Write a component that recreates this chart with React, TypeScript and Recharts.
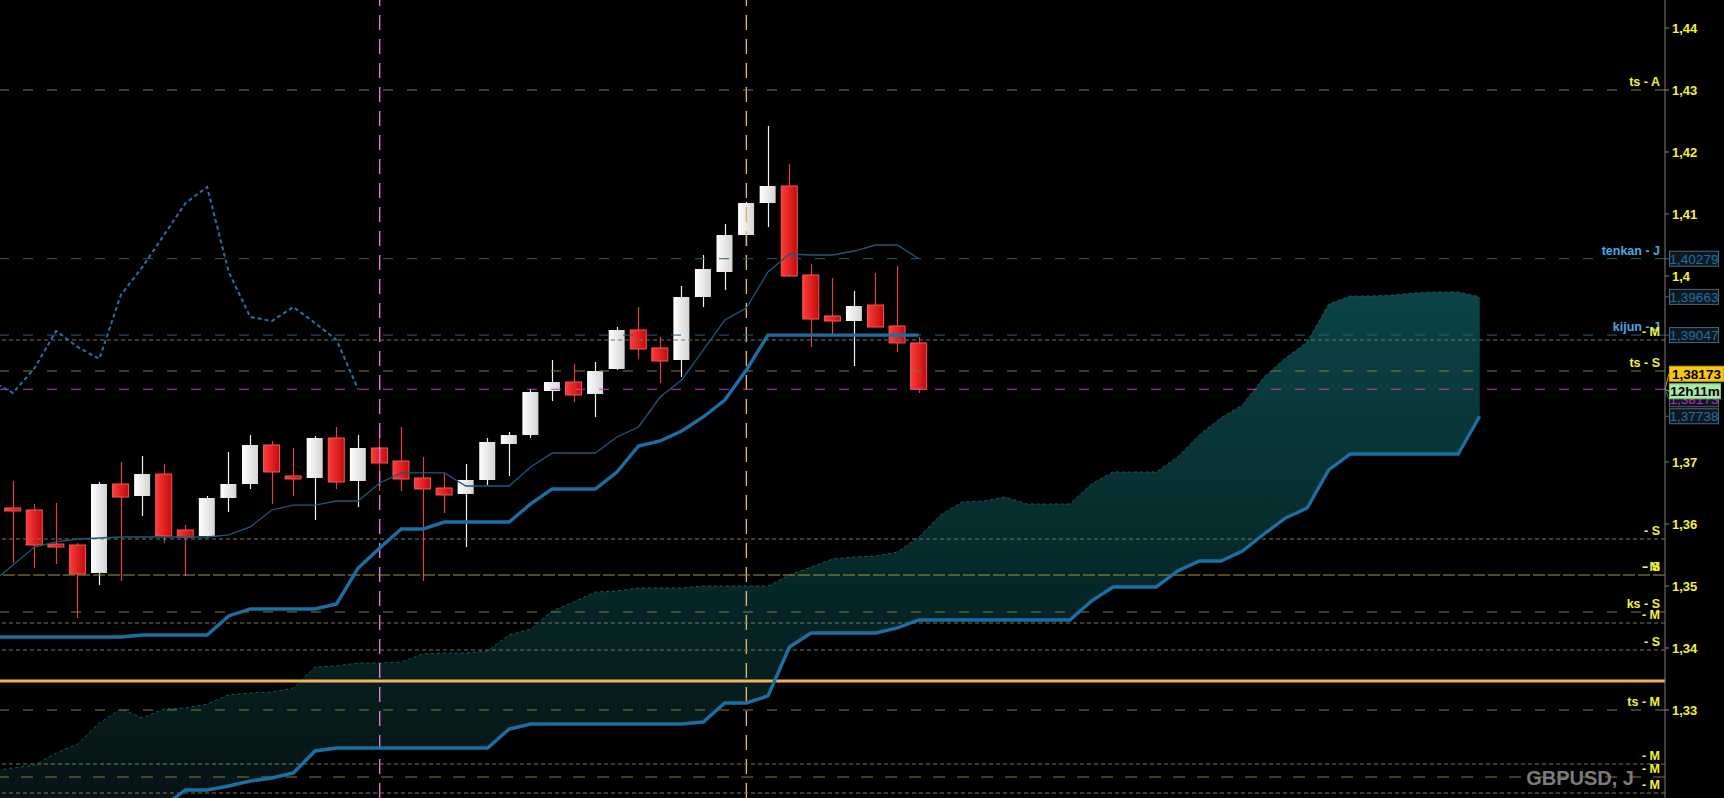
import React from 'react'
import { Area, Bar, ComposedChart, Line, ReferenceLine, XAxis, YAxis } from 'recharts'

// GBPUSD daily, Ichimoku. Slot 0 = first visible candle, cloud runs 26 slots ahead.
const FONT = "'Liberation Sans', Arial, sans-serif"

const candleOpen = [
  1.36258, 1.36226, 1.35677, 1.35661, 1.3521, 1.36645, 1.36452, 1.36806, 1.35903, 1.35806,
  1.36419, 1.36645, 1.37274, 1.36774, 1.36742, 1.37387, 1.36694, 1.37226, 1.37016, 1.36742,
  1.36581, 1.36484, 1.3671, 1.3729, 1.37435, 1.38145, 1.3829, 1.38097, 1.385, 1.39129,
  1.38839, 1.38645, 1.39661, 1.40065, 1.40661, 1.41177, 1.41452, 1.40016, 1.39355, 1.39274,
  1.39532, 1.39194, 1.3892,
]
const candleHigh = [
  1.36694, 1.36323, 1.36339, 1.35694, 1.36677, 1.37, 1.37097, 1.36968, 1.35984, 1.36452,
  1.37161, 1.37435, 1.37339, 1.37226, 1.37419, 1.37565, 1.37435, 1.37516, 1.37565, 1.37081,
  1.36823, 1.36968, 1.37387, 1.37484, 1.38177, 1.38645, 1.38581, 1.38613, 1.39177, 1.395,
  1.39016, 1.39839, 1.40339, 1.40839, 1.41194, 1.42419, 1.41806, 1.40194, 1.39968, 1.39758,
  1.40048, 1.40161, 1.39016,
]
const candleLow = [
  1.35371, 1.3529, 1.35355, 1.34484, 1.35016, 1.35081, 1.36129, 1.35694, 1.35161, 1.3579,
  1.36194, 1.36565, 1.36323, 1.36452, 1.36065, 1.36565, 1.36274, 1.36532, 1.36532, 1.35081,
  1.36177, 1.35629, 1.36629, 1.36774, 1.37387, 1.37984, 1.37968, 1.37726, 1.38484, 1.38661,
  1.38274, 1.38371, 1.395, 1.39774, 1.40484, 1.4079, 1.39984, 1.38855, 1.39048, 1.38548,
  1.39177, 1.38774, 1.38113,
]
const candleClose = [
  1.3621, 1.35661, 1.35629, 1.35194, 1.36645, 1.36435, 1.36806, 1.35806, 1.3579, 1.36419,
  1.36645, 1.37274, 1.36839, 1.36726, 1.37387, 1.36677, 1.37226, 1.36984, 1.36726, 1.36565,
  1.36468, 1.3671, 1.37323, 1.37435, 1.38129, 1.3829, 1.38081, 1.38468, 1.39129, 1.38823,
  1.38629, 1.39661, 1.40113, 1.40661, 1.41177, 1.41452, 1.4, 1.39306, 1.39274, 1.39516,
  1.39177, 1.3892, 1.38173,
]

// lines start one slot left of the first candle
const tenkanLine = [
  1.35048, 1.35339, 1.35629, 1.3571, 1.35758, 1.35774, 1.3579, 1.3579, 1.3579, 1.3579,
  1.3579, 1.35823, 1.35952, 1.36226, 1.36306, 1.36306, 1.36371, 1.36371, 1.36661, 1.36823,
  1.36823, 1.36823, 1.36613, 1.36613, 1.36613, 1.36919, 1.37145, 1.37145, 1.37145, 1.37403,
  1.37565, 1.38048, 1.38323, 1.38806, 1.3929, 1.39484, 1.40065, 1.40355, 1.40339, 1.40339,
  1.40403, 1.405, 1.405, 1.40279,
]
const kijunLine = [
  1.34177, 1.34177, 1.34177, 1.34177, 1.34177, 1.34177, 1.34177, 1.3421, 1.3421, 1.3421,
  1.3421, 1.34516, 1.34629, 1.34629, 1.34629, 1.34629, 1.3471, 1.3529, 1.35613, 1.35919,
  1.35919, 1.36032, 1.36032, 1.36032, 1.36032, 1.36323, 1.36565, 1.36565, 1.36565, 1.36839,
  1.37258, 1.37339, 1.375, 1.37726, 1.38, 1.38484, 1.39047, 1.39047, 1.39047, 1.39047,
  1.39047, 1.39047, 1.39047, 1.39047,
]
const chikouLine = [
  1.38306, 1.38113, 1.38516, 1.39113, 1.38855, 1.38661, 1.39694, 1.40145, 1.40661, 1.41177,
  1.41435, 1.40065, 1.39339, 1.39274, 1.395, 1.39242, 1.38968, 1.38173,
]
const senkouA = [
  1.32016, 1.32065, 1.32113, 1.32306, 1.32452, 1.3279, 1.33016, 1.32871, 1.33016, 1.33032,
  1.33097, 1.33242, 1.33274, 1.3329, 1.33355, 1.33694, 1.3371, 1.33758, 1.33758, 1.33774,
  1.33903, 1.33919, 1.33919, 1.33952, 1.3421, 1.34306, 1.34597, 1.34742, 1.34903, 1.34919,
  1.34968, 1.34968, 1.34968, 1.35, 1.35, 1.35, 1.35, 1.35177, 1.35306, 1.35435,
  1.35468, 1.35484, 1.35548, 1.3579, 1.36145, 1.36355, 1.36371, 1.36435, 1.36323, 1.36323,
  1.36323, 1.36645, 1.36839, 1.36839, 1.36839, 1.37081, 1.37435, 1.3771, 1.37919, 1.38371,
  1.38677, 1.38935, 1.39548, 1.39677, 1.39677, 1.39694, 1.39726, 1.39742, 1.39742, 1.39663,
]
const senkouB = [
  1.30984, 1.31065, 1.31065, 1.31097, 1.31145, 1.31226, 1.3129, 1.31355, 1.31452, 1.3171,
  1.3171, 1.31774, 1.31855, 1.31903, 1.31984, 1.32339, 1.32387, 1.32387, 1.32387, 1.32387,
  1.32387, 1.32387, 1.32387, 1.32387, 1.32694, 1.32774, 1.32774, 1.32774, 1.32774, 1.32774,
  1.32774, 1.32774, 1.32774, 1.32806, 1.33113, 1.33113, 1.33226, 1.34016, 1.34242, 1.34242,
  1.34242, 1.34242, 1.34323, 1.34452, 1.34452, 1.34452, 1.34452, 1.34452, 1.34452, 1.34452,
  1.34452, 1.34758, 1.34984, 1.34984, 1.34984, 1.35242, 1.35403, 1.35403, 1.35565, 1.35839,
  1.36097, 1.36258, 1.36871, 1.37129, 1.37129, 1.37129, 1.37129, 1.37129, 1.37129, 1.37738,
]

// 1,39 and 1,38 sit under the price boxes, so they are not printed
const yTicks = [1.33, 1.34, 1.35, 1.36, 1.37, 1.4, 1.41, 1.42, 1.43, 1.44]

// horizontal levels drawn across the plot, with their right-hand captions
const levelPrices = [
  1.43, 1.40279, 1.39047, 1.38968, 1.38468, 1.38173, 1.35758, 1.35177, 1.34581, 1.34403,
  1.33968, 1.33468, 1.33, 1.32129, 1.31919, 1.31661,
]
const levelCaptions = [
  ['ts - A'], ['tenkan - J'], ['kijun - J'], ['- M'], ['ts - S'], [], ['- S'], ['- M', '- S'],
  ['ks - S'], ['- M'], ['- S'], [], ['ts - M'], ['- M'], ['- M'], ['- M'],
]
const levelKinds = [
  'long', 'blue', 'blue', 'short', 'long', 'magenta', 'short', 'mid', 'long', 'short',
  'short', 'orange', 'long', 'short', 'wide', 'short',
]

// boxes on the price axis
const tagPrices = [1.40279, 1.39663, 1.39047, 1.37738]
const lastPrice = 1.38173
const countdown = '12h11m'

// vertical dashed markers (slot index)
const markerSlots = [17, 34]
const markerColors = ['#e274e2', '#e0b36e']

const FIRST_SLOT = -1
const rows: any[] = []
for (let i = FIRST_SLOT; i <= 77; i++) {
  const k = i - FIRST_SLOT
  const row: any = { i }
  if (i >= 0 && i < candleOpen.length) {
    row.o = candleOpen[i]
    row.h = candleHigh[i]
    row.l = candleLow[i]
    row.c = candleClose[i]
    row.range = [candleLow[i], candleHigh[i]]
  }
  if (k < tenkanLine.length) row.tenkan = tenkanLine[k]
  if (k < kijunLine.length) row.kijun = kijunLine[k]
  if (k < chikouLine.length) row.chikou = chikouLine[k]
  if (k < senkouA.length) {
    row.ssa = senkouA[k]
    row.ssb = senkouB[k]
    row.cloud = [senkouB[k], senkouA[k]]
  }
  rows.push(row)
}

const fmt = (v: number) => v.toFixed(5).replace('.', ',')
const tickFmt = (v: number) => String(Math.round(v * 100) / 100).replace('.', ',')

const levelStyle: Record<string, { stroke: string; dash?: string; width: number }> = {
  long: { stroke: '#7e7e34', dash: '10 14', width: 1 },
  short: { stroke: '#78785a', dash: '4 3', width: 1 },
  mid: { stroke: '#9a9a3c', dash: '12 3', width: 1 },
  wide: { stroke: '#7e7e34', dash: '12 12', width: 1 },
  blue: { stroke: '#2a5d7e', dash: '10 14', width: 1 },
  magenta: { stroke: '#c83ec8', dash: '10 14', width: 1.2 },
  orange: { stroke: '#f2b457', width: 3 },
}

function Candle(props: any) {
  const { x, y, width, height, payload } = props
  if (!payload || payload.o == null || x == null || y == null) return null
  const { o, h, l, c } = payload
  const top = Math.min(y, y + height)
  const px = Math.abs(height)
  const span = h - l || 1e-9
  const at = (v: number) => top + ((h - v) / span) * px
  const cx = Math.round(x + width / 2) + 0.5
  const up = c >= o
  const bTop = at(Math.max(o, c))
  const bh = Math.max(at(Math.min(o, c)) - bTop, 2)
  return (
    <g>
      <line x1={cx} x2={cx} y1={top} y2={top + px} stroke={up ? '#f2f2f2' : '#e5403f'} strokeWidth={1.2} />
      <rect
        x={x + 0.5}
        y={bTop}
        width={width - 1}
        height={bh}
        fill={up ? 'url(#bullBody)' : 'url(#bearBody)'}
        stroke={up ? 'none' : '#f35858'}
        strokeWidth={1}
      />
    </g>
  )
}

function LevelText({ viewBox, texts, color }: any) {
  if (!viewBox || !texts || !texts.length) return null
  const xr = viewBox.x + viewBox.width - 5
  return (
    <g>
      {texts.map((t: string) => (
        <text key={t} x={xr} y={viewBox.y - 4} textAnchor="end" fill={color} fontSize={12.5} fontWeight="bold" fontFamily={FONT}>
          {t}
        </text>
      ))}
    </g>
  )
}

function PriceTag({ viewBox, text, bg, border, color, bold, dy = 0, w = 49 }: any) {
  if (!viewBox) return null
  const x0 = viewBox.x + viewBox.width
  const cy = viewBox.y + dy
  return (
    <g>
      <line x1={x0} x2={x0 + 4} y1={viewBox.y} y2={cy} stroke={border} />
      <rect x={x0 + 4.5} y={cy - 7.5} width={w} height={15} fill={bg} stroke={border} />
      <text
        x={x0 + 4.5 + w / 2}
        y={cy + 5}
        textAnchor="middle"
        fill={color}
        fontSize={13.5}
        fontWeight={bold ? 'bold' : 'normal'}
        fontFamily={FONT}
      >
        {text}
      </text>
    </g>
  )
}

export default function App() {
  return (
    <div style={{ position: 'absolute', left: 0, top: 0, width: 1724, height: 798, background: '#000', overflow: 'hidden' }}>
      <svg width={1724} height={798} style={{ position: 'absolute', left: 0, top: 0 }}>
        <text x={1634} y={785} textAnchor="end" fill="#7c7c7c" fontSize={20} fontWeight="bold" fontFamily={FONT}>
          GBPUSD, J
        </text>
        <text x={2} y={796} fill="#b82ac4" fontSize={10} fontStyle="italic" fontFamily={FONT}>
          réel
        </text>
      </svg>
      <div style={{ position: 'absolute', left: 0, top: 0 }}>
        <ComposedChart width={1724} height={798} data={rows} margin={{ top: 0, right: 0, bottom: 0, left: 0 }}>
          <defs>
            <linearGradient id="cloudGrad" gradientUnits="userSpaceOnUse" x1="0" y1="285" x2="0" y2="798">
              <stop offset="0%" stopColor="#0b4447" />
              <stop offset="50%" stopColor="#062b2c" />
              <stop offset="100%" stopColor="#061313" />
            </linearGradient>
            <linearGradient id="bullBody" x1="0" y1="0" x2="1" y2="0">
              <stop offset="0%" stopColor="#ffffff" />
              <stop offset="100%" stopColor="#d4d4d4" />
            </linearGradient>
            <linearGradient id="bearBody" x1="0" y1="0" x2="1" y2="0">
              <stop offset="0%" stopColor="#ff3b3b" />
              <stop offset="100%" stopColor="#c20b0b" />
            </linearGradient>
          </defs>
          <XAxis dataKey="i" type="number" domain={[-0.603, 76.59]} allowDataOverflow hide />
          <YAxis
            orientation="right"
            width={59}
            domain={[1.315806, 1.444516]}
            allowDataOverflow
            ticks={yTicks}
            tickFormatter={tickFmt}
            tick={{ fill: '#f2f23c', fontSize: 13, fontWeight: 'bold', fontFamily: FONT }}
            tickSize={4}
            tickMargin={3}
            tickLine={{ stroke: '#8a8a8a' }}
            axisLine={{ stroke: '#7a7a7a' }}
          />
          <Area dataKey="cloud" stroke="none" fill="url(#cloudGrad)" fillOpacity={1} isAnimationActive={false} connectNulls={false} />
          <Line dataKey="ssa" stroke="#1c5a6c" strokeWidth={1} strokeDasharray="3 3" dot={false} isAnimationActive={false} />

          {markerSlots.map((s, n) => (
            <ReferenceLine key={'m' + s} x={s} stroke={markerColors[n]} strokeWidth={1.4} strokeDasharray="15 9" />
          ))}
          {levelPrices.map((p, n) => {
            const st = levelStyle[levelKinds[n]]
            const blue = levelKinds[n] === 'blue'
            return (
              <ReferenceLine
                key={'l' + n}
                y={p}
                stroke={st.stroke}
                strokeWidth={st.width}
                strokeDasharray={st.dash}
                label={<LevelText texts={levelCaptions[n]} color={blue ? '#4aa9e2' : '#f2f23c'} />}
              />
            )
          })}

          <Line dataKey="ssb" stroke="#1b6fa4" strokeWidth={3.4} dot={false} isAnimationActive={false} />
          <Line dataKey="kijun" stroke="#1b6fa4" strokeWidth={3.4} dot={false} isAnimationActive={false} />
          <Line dataKey="tenkan" stroke="#1c587c" strokeWidth={1.3} dot={false} isAnimationActive={false} />
          <Line dataKey="chikou" stroke="#1f74aa" strokeWidth={2} strokeDasharray="4 3" dot={false} isAnimationActive={false} />
          <Bar dataKey="range" barSize={17} shape={<Candle />} isAnimationActive={false} />

          {tagPrices.map((p) => (
            <ReferenceLine
              key={'t' + p}
              y={p}
              stroke="none"
              label={<PriceTag text={fmt(p)} bg="#0c1820" border="#56636e" color="#1f6fa6" />}
            />
          ))}
          <ReferenceLine y={lastPrice} stroke="none" label={<PriceTag text={fmt(lastPrice)} bg="#0c1820" border="#56636e" color="#c025c0" dy={10} />} />
          <ReferenceLine y={lastPrice} stroke="none" label={<PriceTag text={countdown} bg="#a8eaa8" border="#7cc27c" color="#000" bold dy={2} w={51} />} />
          <ReferenceLine y={lastPrice} stroke="none" label={<PriceTag text={fmt(lastPrice)} bg="#f7c619" border="#d9a800" color="#000" bold dy={-15.5} w={54} />} />
        </ComposedChart>
      </div>
    </div>
  )
}
